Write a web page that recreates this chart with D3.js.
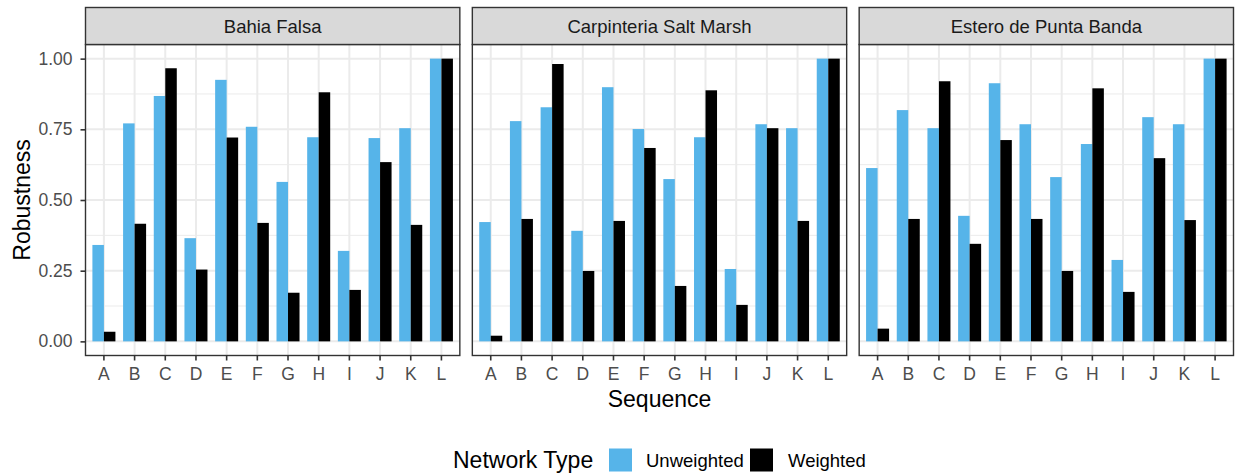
<!DOCTYPE html>
<html>
<head>
<meta charset="utf-8">
<script src="https://cdn.jsdelivr.net/npm/d3@7"></script>
<style>
  html, body { margin: 0; padding: 0; background: #fff; }
  svg { display: block; font-family: "Liberation Sans", Arial, Helvetica, sans-serif; }
</style>
</head>
<body>
<svg id="chart" width="1236" height="476"></svg>
<script>
// Robustness of unweighted vs weighted food-web networks, by removal sequence and site
const sites = ["Bahia Falsa", "Carpinteria Salt Marsh", "Estero de Punta Banda"];
const sequences = ["A", "B", "C", "D", "E", "F", "G", "H", "I", "J", "K", "L"];
const networkTypes = ["Unweighted", "Weighted"];
const yTicks = [0, 0.25, 0.5, 0.75, 1];
const yMinor = [0.125, 0.375, 0.625, 0.875];

const unweightedBF = [0.341, 0.771, 0.868, 0.365, 0.925, 0.759, 0.564, 0.722, 0.320, 0.719, 0.754, 1.0];
const weightedBF   = [0.034, 0.416, 0.966, 0.254, 0.721, 0.419, 0.172, 0.881, 0.182, 0.634, 0.412, 1.0];
const unweightedCSM = [0.422, 0.779, 0.828, 0.391, 0.899, 0.751, 0.574, 0.722, 0.256, 0.768, 0.754, 1.0];
const weightedCSM   = [0.020, 0.433, 0.981, 0.249, 0.426, 0.684, 0.196, 0.888, 0.129, 0.754, 0.426, 1.0];
const unweightedEPB = [0.613, 0.818, 0.754, 0.444, 0.913, 0.768, 0.581, 0.698, 0.288, 0.793, 0.768, 1.0];
const weightedEPB   = [0.045, 0.433, 0.920, 0.345, 0.712, 0.433, 0.249, 0.895, 0.175, 0.648, 0.429, 1.0];

const siteValues = {
  "Bahia Falsa": [unweightedBF, weightedBF],
  "Carpinteria Salt Marsh": [unweightedCSM, weightedCSM],
  "Estero de Punta Banda": [unweightedEPB, weightedEPB]
};

const colors = d3.scaleOrdinal().domain(networkTypes).range(["#56B4E9", "#000000"]);

const svg = d3.select("#chart");

// layout
const plotLeft = 85.5, plotRight = 1233.5, panelGap = 12.5;
const stripTop = 7.5, stripH = 37;
const panelTop = stripTop + stripH, panelBottom = 355.5;
const panelW = (plotRight - plotLeft - 2 * panelGap) / 3;

const y = d3.scaleLinear().domain([-0.05, 1.05]).range([panelBottom, panelTop]);

const panelX = d3.scaleBand().domain(sites).range([plotLeft, plotRight + panelGap]).paddingInner(0).paddingOuter(0);

sites.forEach((site, si) => {
  const x0 = panelX(site);
  const x = d3.scaleBand().domain(sequences).range([x0, x0 + panelW]).paddingInner(0).paddingOuter(0.1);
  const step = x.step();
  const barGroupW = 0.75 * step;
  const xSub = d3.scaleBand().domain(networkTypes).range([0, barGroupW]);

  const g = svg.append("g");

  // panel background
  g.append("rect").attr("x", x0).attr("y", panelTop).attr("width", panelW).attr("height", panelBottom - panelTop).attr("fill", "#fff");

  // minor grid
  g.selectAll(".ymin").data(yMinor).join("line")
    .attr("x1", x0).attr("x2", x0 + panelW)
    .attr("y1", d => y(d)).attr("y2", d => y(d))
    .attr("stroke", "#EBEBEB").attr("stroke-width", 1);
  // major grid
  g.selectAll(".ymaj").data(yTicks).join("line")
    .attr("x1", x0).attr("x2", x0 + panelW)
    .attr("y1", d => y(d)).attr("y2", d => y(d))
    .attr("stroke", "#EBEBEB").attr("stroke-width", 2);
  g.selectAll(".xmaj").data(sequences).join("line")
    .attr("x1", d => x(d) + x.bandwidth() / 2).attr("x2", d => x(d) + x.bandwidth() / 2)
    .attr("y1", panelTop).attr("y2", panelBottom)
    .attr("stroke", "#EBEBEB").attr("stroke-width", 2);

  // bars
  const vals = siteValues[site];
  const rows = [];
  sequences.forEach((s, i) => networkTypes.forEach((t, ti) => rows.push({ seq: s, type: t, value: vals[ti][i] })));
  g.selectAll(".bar").data(rows).join("rect")
    .attr("x", d => x(d.seq) + x.bandwidth() / 2 - barGroupW / 2 + xSub(d.type))
    .attr("width", xSub.bandwidth())
    .attr("y", d => y(d.value))
    .attr("height", d => y(0) - y(d.value))
    .attr("fill", d => colors(d.type));

  // panel border
  g.append("rect").attr("x", x0).attr("y", panelTop).attr("width", panelW).attr("height", panelBottom - panelTop)
    .attr("fill", "none").attr("stroke", "#333333").attr("stroke-width", 1.4);

  // strip
  g.append("rect").attr("x", x0).attr("y", stripTop).attr("width", panelW).attr("height", stripH)
    .attr("fill", "#D9D9D9").attr("stroke", "#333333").attr("stroke-width", 1.4);
  g.append("text").attr("x", x0 + panelW / 2).attr("y", stripTop + stripH / 2).attr("dy", "0.36em")
    .attr("text-anchor", "middle").attr("font-size", "18.5px").attr("fill", "#1A1A1A").text(site);

  // x axis
  const xAxis = g.append("g").attr("transform", `translate(0,${panelBottom})`)
    .call(d3.axisBottom(x).tickSize(5).tickSizeOuter(0).tickPadding(7));
  xAxis.select(".domain").remove();
  xAxis.selectAll(".tick line").attr("stroke", "#333333").attr("stroke-width", 1.6);
  xAxis.selectAll(".tick text").attr("font-size", "17.5px").attr("fill", "#4D4D4D").attr("font-family", null);

  // y axis on the first panel only
  if (si === 0) {
    const yAxis = g.append("g").attr("transform", `translate(${x0},0)`)
      .call(d3.axisLeft(y).tickValues(yTicks).tickFormat(d3.format(".2f")).tickSize(5).tickSizeOuter(0).tickPadding(8));
    yAxis.select(".domain").remove();
    yAxis.selectAll(".tick line").attr("stroke", "#333333").attr("stroke-width", 1.6);
    yAxis.selectAll(".tick text").attr("font-size", "17.5px").attr("fill", "#4D4D4D").attr("font-family", null);
  }
});

// axis titles
svg.append("text").attr("transform", `translate(30,${(panelTop + panelBottom) / 2}) rotate(-90)`)
  .attr("text-anchor", "middle").attr("font-size", "23px").attr("fill", "#000").text("Robustness");
svg.append("text").attr("x", (plotLeft + plotRight) / 2).attr("y", 407)
  .attr("text-anchor", "middle").attr("font-size", "23px").attr("fill", "#000").text("Sequence");

// legend
const legend = svg.append("g");
const legendY = 460;
legend.append("text").attr("x", 453).attr("y", legendY).attr("dy", "0.36em")
  .attr("font-size", "23px").attr("fill", "#000").text("Network Type");
const keyX = [609, 750];
const labelX = [646, 788];
networkTypes.forEach((t, i) => {
  legend.append("rect").attr("x", keyX[i]).attr("y", legendY - 11.5).attr("width", 23).attr("height", 23).attr("fill", colors(t));
  legend.append("text").attr("x", labelX[i]).attr("y", legendY).attr("dy", "0.36em")
    .attr("font-size", "18.5px").attr("fill", "#000").text(t);
});
</script>
</body>
</html>
